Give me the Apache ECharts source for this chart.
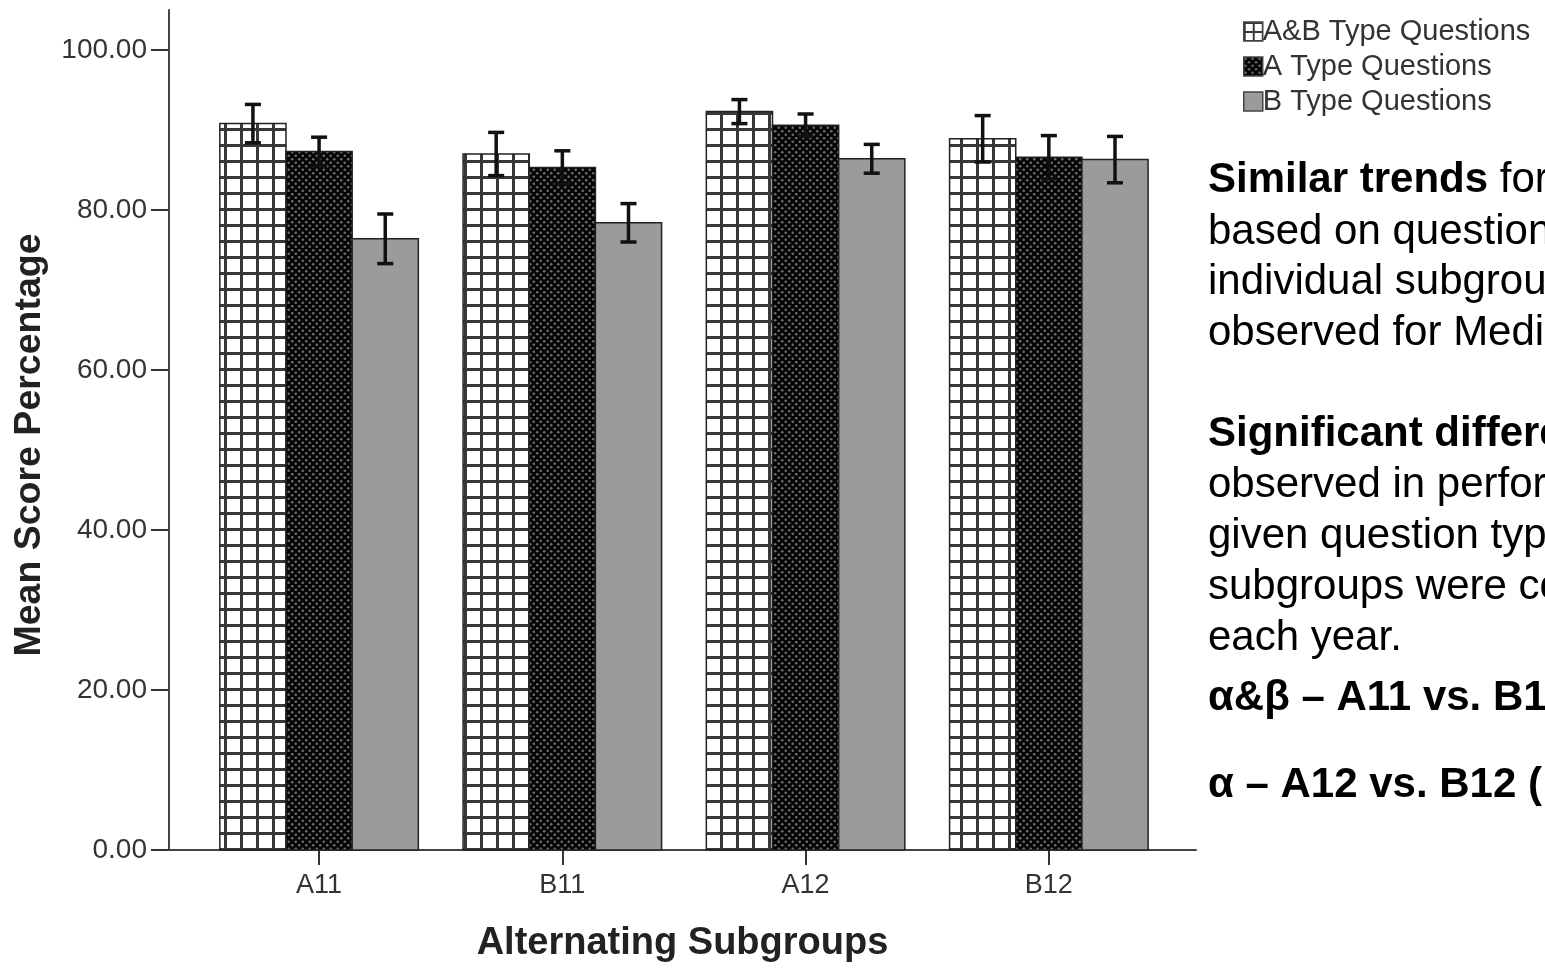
<!DOCTYPE html>
<html>
<head>
<meta charset="utf-8">
<script src="https://cdn.jsdelivr.net/npm/echarts@6/dist/echarts.min.js"></script>
<style>
html,body{margin:0;padding:0;background:#fff;}
#chart{width:1545px;height:968px;}
</style>
</head>
<body>
<div id="chart"></div>
<script>
// ---------- data ----------
const categories = ['A11', 'B11', 'A12', 'B12'];
const seriesNames = ['A&B Type Questions', 'A Type Questions', 'B Type Questions'];
const meanAB = [90.8, 87.0, 92.3, 88.9];
const meanA  = [87.3, 85.3, 90.6, 86.6];
const meanB  = [76.4, 78.4, 86.4, 86.3];
const errAB  = [2.4, 2.7, 1.5, 2.9];
const errA   = [1.8, 2.1, 1.4, 2.7];
const errB   = [3.1, 2.4, 1.8, 2.9];
const yTicks = [0, 20, 40, 60, 80, 100];
const xTicks = [0, 1, 2, 3];

// ---------- patterns ----------
function gridPattern(size, line) {
  const c = document.createElement('canvas'); c.width = size; c.height = size;
  const g = c.getContext('2d');
  g.fillStyle = '#ffffff'; g.fillRect(0, 0, size, size);
  g.fillStyle = '#383838'; g.fillRect(0, 0, size, line); g.fillRect(0, 0, line, size);
  return { image: c, repeat: 'repeat' };
}
function dotPattern() {
  const c = document.createElement('canvas'); c.width = 7; c.height = 7;
  const g = c.getContext('2d');
  g.fillStyle = '#050505'; g.fillRect(0, 0, 7, 7);
  g.fillStyle = '#6e6e6e';
  g.beginPath(); g.arc(1.75, 1.75, 1.3, 0, Math.PI * 2); g.fill();
  g.beginPath(); g.arc(5.25, 5.25, 1.3, 0, Math.PI * 2); g.fill();
  return { image: c, repeat: 'repeat' };
}
const fills = [gridPattern(16, 3), dotPattern(), '#9b9b9b'];
const legendFills = [gridPattern(9, 2), dotPattern(), '#9b9b9b'];
const means = [meanAB, meanA, meanB];
const errs = [errAB, errA, errB];

const BAR_W = 0.272;     // bar width in category units
const CAP_HALF = 0.033;  // error cap half width in category units

function barSeries(k) {
  return {
    name: seriesNames[k],
    type: 'custom',
    itemStyle: { color: fills[k], borderColor: '#222', borderWidth: 1.5 },
    data: means[k].map((v, i) => [i, v]),
    renderItem: function (params, api) {
      const x = api.value(0) + (k - 1) * BAR_W;
      const v = api.value(1);
      const p0 = api.coord([x - BAR_W / 2, v]);
      const p1 = api.coord([x + BAR_W / 2, 0]);
      return {
        type: 'rect',
        shape: { x: p0[0], y: p0[1], width: p1[0] - p0[0], height: p1[1] - p0[1] },
        style: { fill: fills[k], stroke: '#222', lineWidth: 1.5 }
      };
    },
    z: 2
  };
}
function errSeries(k) {
  return {
    name: seriesNames[k] + ' err',
    type: 'custom',
    data: means[k].map((v, i) => [i, v - errs[k][i], v + errs[k][i]]),
    renderItem: function (params, api) {
      const x = api.value(0) + (k - 1) * BAR_W;
      const lo = api.value(1), hi = api.value(2);
      const pl = api.coord([x, lo]), ph = api.coord([x, hi]);
      const cl0 = api.coord([x - CAP_HALF, lo]), cl1 = api.coord([x + CAP_HALF, lo]);
      const ch0 = api.coord([x - CAP_HALF, hi]), ch1 = api.coord([x + CAP_HALF, hi]);
      const st = { stroke: '#111', lineWidth: 3.5 };
      return {
        type: 'group',
        children: [
          { type: 'line', shape: { x1: pl[0], y1: pl[1], x2: ph[0], y2: ph[1] }, style: st },
          { type: 'line', shape: { x1: cl0[0], y1: cl0[1], x2: cl1[0], y2: cl1[1] }, style: st },
          { type: 'line', shape: { x1: ch0[0], y1: ch0[1], x2: ch1[0], y2: ch1[1] }, style: st }
        ]
      };
    },
    z: 3
  };
}

// ---------- side text ----------
const FONT = '"Liberation Sans", Arial, sans-serif';
const sideLines = [
  { t: '{b|Similar trends} for', y: 180 },
  { t: 'based on question', y: 232 },
  { t: 'individual subgroups', y: 282 },
  { t: 'observed for Medicine', y: 333 },
  { t: '{b|Significant differences}', y: 434 },
  { t: 'observed in performance', y: 485 },
  { t: 'given question type', y: 536 },
  { t: 'subgroups were compared', y: 587 },
  { t: 'each year.', y: 638 },
  { t: '{b|α&β – A11 vs. B11}', y: 698 },
  { t: '{b|α – A12 vs. B12 (}', y: 785 }
];

const chart = echarts.init(document.getElementById('chart'), null, { renderer: 'canvas' });
chart.setOption({
  backgroundColor: '#ffffff',
  animation: false,
  grid: { left: 169, right: 349, top: 10, bottom: 118 },
  legend: {
    orient: 'vertical',
    left: 1238, top: 12,
    itemWidth: 19, itemHeight: 19, itemGap: 6,
    icon: 'rect',
    textStyle: { fontFamily: FONT, fontSize: 29, color: '#333', padding: [0, 0, 0, -5] },
    data: seriesNames.map((n, k) => ({ name: n, itemStyle: { color: legendFills[k], borderColor: '#444', borderWidth: 1.5 } }))
  },
  xAxis: {
    type: 'value',
    min: -0.617, max: 3.605,
    name: 'Alternating Subgroups',
    nameLocation: 'middle',
    nameGap: 75,
    nameTextStyle: { fontFamily: FONT, fontWeight: 'bold', fontSize: 38, color: '#222' },
    axisLine: { show: true, onZero: false, lineStyle: { color: '#444', width: 2 } },
    axisTick: { show: true, customValues: xTicks, length: 15, lineStyle: { color: '#333', width: 2 } },
    axisLabel: {
      customValues: xTicks,
      formatter: v => categories[Math.round(v)],
      fontFamily: FONT, fontSize: 27, color: '#333', margin: 22
    },
    splitLine: { show: false }
  },
  yAxis: {
    type: 'value',
    min: 0, max: 105,
    name: 'Mean Score Percentage',
    nameLocation: 'middle',
    nameGap: 120,
    nameTextStyle: { fontFamily: FONT, fontWeight: 'bold', fontSize: 37.5, color: '#222', padding: [0, 30, 0, 0] },
    axisLine: { show: true, onZero: false, lineStyle: { color: '#444', width: 2 } },
    axisTick: { show: true, customValues: yTicks, length: 18, lineStyle: { color: '#333', width: 2 } },
    axisLabel: {
      customValues: yTicks,
      formatter: v => v.toFixed(2),
      fontFamily: FONT, fontSize: 28, color: '#333', margin: 22
    },
    splitLine: { show: false }
  },
  series: [barSeries(0), barSeries(1), barSeries(2), errSeries(0), errSeries(1), errSeries(2)],
  graphic: sideLines.map(l => ({
    type: 'text',
    x: 1208, y: l.y,
    style: {
      text: l.t,
      font: '42px ' + FONT,
      fill: '#000',
      verticalAlign: 'middle',
      rich: { b: { font: 'bold 42px ' + FONT, fill: '#000' } }
    }
  }))
});
</script>
</body>
</html>
